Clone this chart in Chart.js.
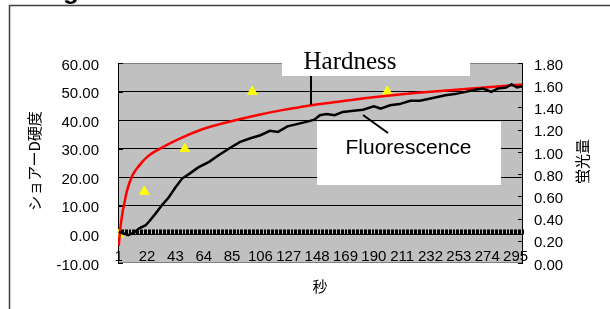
<!DOCTYPE html>
<html>
<head>
<meta charset="utf-8">
<script src="https://cdn.jsdelivr.net/npm/chart.js@4.4.0/dist/chart.umd.min.js"></script>
<style>
html, body { margin: 0; padding: 0; background: #fff; overflow: hidden; }
canvas { display: block; }
</style>
</head>
<body>
<canvas id="grafico" width="610" height="309"></canvas>
<script>
// Etiquetas del eje X (segundos) y rango de categorias
const etiquetasX = [1, 22, 43, 64, 85, 106, 127, 148, 169, 190, 211, 232, 253, 274, 295];
const totalSegundos = 300;

// Dureza ajustada (linea roja, eje izquierdo)
const durezaSeg = [1, 2, 3, 4, 5, 7, 11, 16, 23, 33, 45, 63, 76, 93, 106, 123, 135, 145, 158, 172, 200, 232, 265, 300];
const durezaVal = [-4, 1, 5, 8, 10.5, 15, 20.5, 24, 27.5, 30.4, 33.3, 36.8, 38.6, 40.6, 42, 43.6, 44.5, 45.3, 46.1, 47, 48.5, 49.9, 51.2, 52.5];

// Fluorescencia (linea negra, eje derecho)
const fluorSeg = [1, 4, 8, 12, 16, 21, 24, 28, 33, 38, 43, 48, 53, 60, 68, 75, 84, 91, 98, 106, 113, 119, 126, 133, 140, 146, 150, 155, 161, 167, 175, 182, 190, 195, 202, 209, 217, 224, 232, 243, 250, 258, 265, 271, 277, 282, 288, 292, 296, 300];
const fluorVal = [0.28, 0.27, 0.25, 0.27, 0.31, 0.34, 0.38, 0.44, 0.52, 0.59, 0.68, 0.76, 0.80, 0.86, 0.91, 0.97, 1.04, 1.09, 1.12, 1.15, 1.19, 1.18, 1.23, 1.25, 1.27, 1.29, 1.33, 1.34, 1.33, 1.36, 1.37, 1.38, 1.41, 1.39, 1.42, 1.43, 1.46, 1.46, 1.48, 1.51, 1.52, 1.54, 1.56, 1.57, 1.54, 1.57, 1.58, 1.61, 1.58, 1.59];

// Dureza medida (triangulos amarillos, eje izquierdo)
const medidoSeg = [1, 20, 50, 100, 200];
const medidoVal = [0, 15, 30, 50, 50];

// Ejes
const ejeIzqMin = -10, ejeIzqMax = 60, ejeIzqPaso = 10;
const ejeDerMin = 0, ejeDerMax = 1.8, ejeDerPaso = 0.2;

const tituloIzq = "ショアーD硬度";
const tituloDer = "蛍光量";
const tituloX = "秒";

const fuente = '"Liberation Sans", Arial, sans-serif';
const fuenteCJK = '"Noto Sans CJK JP", sans-serif';

function puntos(xs, ys) {
    return xs.map((x, i) => ({ x: x, y: ys[i] }));
}

// Plugin con los detalles de estilo Excel (fondo, ejes, cuadros de texto)
const estiloExcel = {
    id: "estiloExcel",
    beforeDraw(chart) {
        const { ctx, chartArea: a } = chart;
        ctx.save();
        ctx.fillStyle = "#C0C0C0";
        ctx.fillRect(a.left, a.top, a.right - a.left, a.bottom - a.top);
        ctx.restore();
    },
    beforeDatasetsDraw(chart) {
        const { ctx, chartArea: a, scales } = chart;
        const sx = scales.x, sy = scales.y, sy2 = scales.y2;
        ctx.save();
        // borde superior / inferior gris
        ctx.strokeStyle = "#808080";
        ctx.lineWidth = 1;
        ctx.beginPath();
        ctx.moveTo(a.left, a.top + 0.5); ctx.lineTo(a.right, a.top + 0.5);
        ctx.moveTo(a.left, a.bottom - 0.5); ctx.lineTo(a.right, a.bottom - 0.5);
        ctx.stroke();

        // ejes verticales negros con marcas hacia dentro
        ctx.strokeStyle = "#000";
        ctx.beginPath();
        ctx.moveTo(a.left + 0.5, a.top); ctx.lineTo(a.left + 0.5, a.bottom);
        ctx.moveTo(a.right - 0.5, a.top); ctx.lineTo(a.right - 0.5, a.bottom);
        sy.ticks.forEach(t => {
            const py = Math.round(sy.getPixelForValue(t.value)) + 0.5;
            ctx.moveTo(a.left, py); ctx.lineTo(a.left + 5, py);
        });
        sy2.ticks.forEach(t => {
            const py = Math.round(sy2.getPixelForValue(t.value)) + 0.5;
            ctx.moveTo(a.right - 5, py); ctx.lineTo(a.right, py);
        });
        ctx.stroke();

        // eje de categorias en y = 0 con una marca por segundo
        const y0 = Math.round(sy.getPixelForValue(0)) + 0.5;
        ctx.beginPath();
        ctx.moveTo(a.left, y0); ctx.lineTo(a.right, y0);
        for (let k = 0; k <= totalSegundos; k++) {
            const px = Math.round(sx.getPixelForValue(k + 0.5)) + 0.5;
            ctx.moveTo(px, y0 - 5); ctx.lineTo(px, y0);
        }
        ctx.stroke();

        // etiquetas del eje X (dentro del area, abajo)
        ctx.fillStyle = "#000";
        ctx.font = "15px " + fuente;
        ctx.textAlign = "center";
        ctx.textBaseline = "middle";
        etiquetasX.forEach(v => {
            ctx.fillText(String(v), sx.getPixelForValue(v), 256.5);
        });
        ctx.restore();
    },
    afterDraw(chart) {
        const { ctx } = chart;
        ctx.save();
        // cuadros de texto blancos
        ctx.fillStyle = "#fff";
        ctx.fillRect(282, 44, 188, 32);
        ctx.fillRect(317, 121.5, 184, 63.5);

        ctx.fillStyle = "#000";
        ctx.textAlign = "center";
        ctx.textBaseline = "alphabetic";
        ctx.font = '25px "Liberation Serif", "Times New Roman", serif';
        ctx.fillText("Hardness", 350, 68.5);
        ctx.font = "21px " + fuente;
        ctx.fillText("Fluorescence", 408.5, 154);

        // flechas
        ctx.strokeStyle = "#000";
        ctx.lineWidth = 2;
        ctx.beginPath();
        ctx.moveTo(311, 76); ctx.lineTo(311, 105);
        ctx.moveTo(363, 115); ctx.lineTo(388, 133);
        ctx.stroke();

        // titulos de ejes
        ctx.font = "15px " + fuenteCJK;
        ctx.textBaseline = "middle";
        ctx.save();
        ctx.translate(34.5, 161);
        ctx.rotate(-Math.PI / 2);
        ctx.fillText(tituloIzq, 0, 0);
        ctx.restore();
        ctx.save();
        ctx.translate(582.5, 161.5);
        ctx.rotate(-Math.PI / 2);
        ctx.fillText(tituloDer, 0, 0);
        ctx.restore();
        ctx.fillText(tituloX, 320, 286.5);

        // marco de la figura y resto del titulo cortado
        ctx.strokeStyle = "#404040";
        ctx.lineWidth = 1.5;
        ctx.beginPath();
        ctx.moveTo(9.5, 309); ctx.lineTo(9.5, 5.5); ctx.lineTo(610, 5.5);
        ctx.stroke();
        ctx.textAlign = "left";
        ctx.textBaseline = "alphabetic";
        ctx.font = "bold 26px " + fuente;
        ctx.fillText("Fig", 40, -1);
        ctx.restore();
    }
};

const canvas = document.getElementById("grafico");
const ctx = canvas.getContext("2d");

new Chart(ctx, {
    type: "line",
    data: {
        datasets: [{
            label: "Fluorescence",
            data: puntos(fluorSeg, fluorVal),
            yAxisID: "y2",
            borderColor: "#000",
            borderWidth: 2.5,
            pointRadius: 0,
            tension: 0
        }, {
            label: "Hardness",
            data: puntos(durezaSeg, durezaVal),
            yAxisID: "y",
            borderColor: "#FF0000",
            borderWidth: 2.5,
            pointRadius: 0,
            cubicInterpolationMode: "monotone"
        }, {
            label: "Medido",
            data: puntos(medidoSeg, medidoVal),
            yAxisID: "y",
            showLine: false,
            pointStyle: "triangle",
            pointRadius: 5.5,
            backgroundColor: "#FFFF00",
            borderColor: "#FFFF00",
            borderWidth: 1
        }]
    },
    options: {
        responsive: false,
        animation: false,
        events: [],
        layout: { padding: { top: 63, bottom: 46, left: 0, right: 0 } },
        plugins: {
            legend: { display: false },
            tooltip: { enabled: false }
        },
        scales: {
            x: {
                type: "linear",
                min: 0.5,
                max: totalSegundos + 0.5,
                display: false
            },
            y: {
                position: "left",
                min: ejeIzqMin,
                max: ejeIzqMax,
                ticks: {
                    stepSize: ejeIzqPaso,
                    callback: v => v.toFixed(2),
                    color: "#000",
                    font: { family: fuente, size: 15 },
                    padding: 19,
                    labelOffset: 2.5
                },
                grid: {
                    drawTicks: false,
                    lineWidth: 1,
                    color: c => (c.tick.value > ejeIzqMin && c.tick.value < ejeIzqMax) ? "#000" : "rgba(0,0,0,0)"
                },
                border: { display: false },
                afterFit: s => { s.width = 118; }
            },
            y2: {
                position: "right",
                min: ejeDerMin,
                max: ejeDerMax,
                ticks: {
                    stepSize: ejeDerPaso,
                    callback: v => v.toFixed(2),
                    color: "#000",
                    font: { family: fuente, size: 15 },
                    padding: 11,
                    labelOffset: 2.5
                },
                grid: { display: false, drawTicks: false },
                border: { display: false },
                afterFit: s => { s.width = 87; }
            }
        }
    },
    plugins: [estiloExcel]
});
</script>
</body>
</html>
